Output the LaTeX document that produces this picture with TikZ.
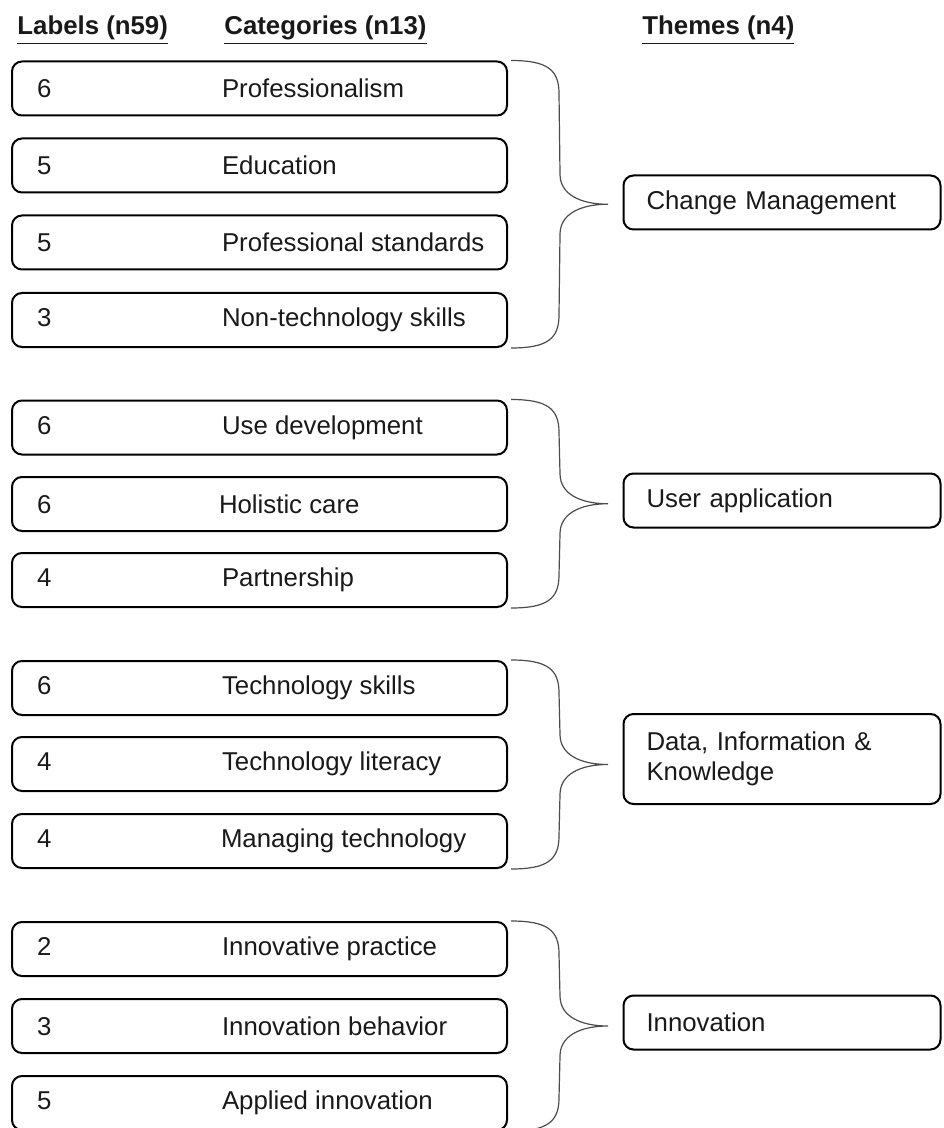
\documentclass[tikz,border=0pt]{standalone}
\usepackage{fontspec}
\setmainfont{Liberation Sans}
\usetikzlibrary{calc}

\begin{document}
\begin{tikzpicture}[x=0.5pt, y=-0.5pt,
    every node/.style={font={\fontsize{12.9pt}{15pt}\selectfont}, text=black!90},
    catbox/.style={draw, line width=1pt, rounded corners=5pt, minimum width=247.5pt, minimum height=27pt, inner xsep=12.5pt},
    themebox/.style={draw, line width=1pt, rounded corners=5pt, minimum width=158.5pt, minimum height=27pt, inner xsep=11.5pt, text width=135.5pt, align=left},
    header/.style={anchor=base west, inner sep=0pt, font={\fontsize{12.9pt}{15pt}\selectfont\bfseries}},
    brace/.style={draw, line width=0.6pt, black!70}]
    \useasboundingbox (0,0) rectangle (943,1128);

    % headers
    \node[header] (hlab) at (17,35) {\underline{Labels (n59)}};
    \node[header] (hcat) at (224,35) {\underline{Categories (n13)}};
    \node[header] (hthm) at (642,35) {\underline{Themes (n4)}};

    % categories
    \node[catbox] (prof) at (259.5,88.5) {\makebox[222.5pt][l]{\makebox[92.5pt][l]{6}Professionalism}};
    \node[catbox] (edu) at (259.5,165.5) {\makebox[222.5pt][l]{\makebox[92.5pt][l]{5}Education}};
    \node[catbox] (pstd) at (259.5,242.5) {\makebox[222.5pt][l]{\makebox[92.5pt][l]{5}Professional standards}};
    \node[catbox] (ntech) at (259.5,320) {\makebox[222.5pt][l]{\makebox[92.5pt][l]{3}Non-technology skills}};

    \node[catbox] (usedev) at (259.5,427.5) {\makebox[222.5pt][l]{\makebox[92.5pt][l]{6}Use development}};
    \node[catbox] (hcare) at (259.5,504) {\makebox[222.5pt][l]{\makebox[91pt][l]{6}Holistic care}};
    \node[catbox] (part) at (259.5,580) {\makebox[222.5pt][l]{\makebox[92.5pt][l]{4}Partnership}};

    \node[catbox] (tskill) at (259.5,688) {\makebox[222.5pt][l]{\makebox[92.5pt][l]{6}Technology skills}};
    \node[catbox] (tlit) at (259.5,764) {\makebox[222.5pt][l]{\makebox[92.5pt][l]{4}Technology literacy}};
    \node[catbox] (mtech) at (259.5,841) {\makebox[222.5pt][l]{\makebox[92pt][l]{4}Managing technology}};

    \node[catbox] (ipract) at (259.5,949) {\makebox[222.5pt][l]{\makebox[92.5pt][l]{2}Innovative practice}};
    \node[catbox] (ibeh) at (259.5,1026) {\makebox[222.5pt][l]{\makebox[92.5pt][l]{3}Innovation behavior}};
    \node[catbox] (ainn) at (259.5,1103) {\makebox[222.5pt][l]{\makebox[92.5pt][l]{5}Applied innovation}};

    % themes
    \node[themebox] (chg) at (782,202.5) {Change Management};
    \node[themebox] (usr) at (782,500.5) {User application};
    \node[themebox, minimum height=45pt] (dik) at (782,759) {Data, Information \&\\ Knowledge};
    \node[themebox] (inn) at (782,1022.5) {Innovation};

    % braces
    \foreach \top/\bot in {prof/ntech, usedev/part, tskill/mtech, ipract/ainn} {
        \coordinate (bt) at ([xshift=1.5pt]\top.north east);
        \coordinate (bm) at ($(\top.north east)!.5!(\bot.south east)+(50pt,0)$);
        \coordinate (bb) at ([xshift=1.5pt]\bot.south east);
        \draw[brace] (bt) .. controls +(18pt,0) and +(0,12pt) .. ($(bt)+(24pt,-16.5pt)$)
            -- ($(bm)+(-24pt,15pt)$) .. controls +(0,-10pt) and +(-14pt,0) .. (bm)
            .. controls +(-14pt,0) and +(0,10pt) .. ($(bm)+(-24pt,-15pt)$)
            -- ($(bb)+(24pt,16.5pt)$) .. controls +(0,-12pt) and +(18pt,0) .. (bb);
    }
\end{tikzpicture}
\end{document}
